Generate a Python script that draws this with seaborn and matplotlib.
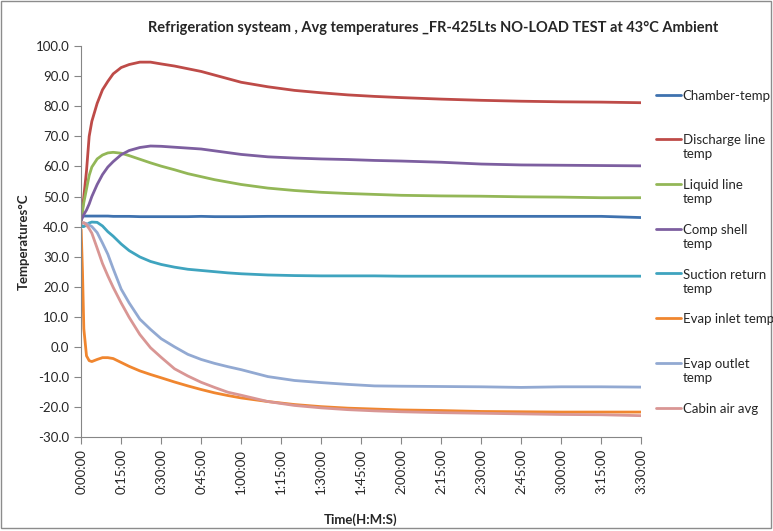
"""Refrigeration system avg temperatures, no-load test chart"""
import numpy as np
import matplotlib
matplotlib.use("Agg")
import matplotlib.pyplot as plt
from matplotlib.legend_handler import HandlerLine2D
import seaborn as sns
import pandas as pd

# time in minutes from start
minutes = [0, 0.5, 1, 2, 3, 4, 6, 8, 10, 12, 15, 18, 22, 26, 30, 35, 40, 45, 50, 55,
           60, 70, 80, 90, 100, 110, 120, 135, 150, 165, 180, 195, 210]

chamber = [43.5, 43.5, 43.5, 43.5, 43.5, 43.5, 43.5, 43.5, 43.5, 43.4, 43.4, 43.4, 43.3, 43.3, 43.3, 43.3, 43.3,
           43.4, 43.3, 43.3, 43.3, 43.4, 43.4, 43.4, 43.4, 43.4, 43.4, 43.4, 43.4, 43.4, 43.4, 43.4, 43.0]
discharge = [42, 46, 50, 58.5, 70, 75, 81, 85.5, 88.3, 90.8, 92.9, 93.9, 94.7, 94.7, 94.1, 93.4, 92.5,
             91.6, 90.4, 89.2, 88.0, 86.5, 85.3, 84.5, 83.8, 83.3, 82.9, 82.4, 82.0, 81.7, 81.5, 81.4, 81.2]
liquid = [42, 45, 48, 52.5, 57, 59.8, 62.5, 63.8, 64.5, 64.7, 64.4, 63.6, 62.4, 61.2, 60.1, 58.9, 57.6,
          56.6, 55.6, 54.8, 54.0, 52.8, 52.0, 51.4, 51.0, 50.7, 50.4, 50.2, 50.1, 49.9, 49.8, 49.6, 49.6]
comp_shell = [42, 43, 44, 45.5, 47.5, 50, 54, 57.3, 59.8, 61.6, 63.9, 65.3, 66.3, 66.8, 66.7, 66.4, 66.1,
              65.8, 65.2, 64.6, 64.0, 63.2, 62.8, 62.5, 62.3, 62.0, 61.8, 61.4, 60.8, 60.5, 60.4, 60.3, 60.2]
suction = [40.5, 40.0, 40.0, 40.5, 41.2, 41.5, 41.4, 40.2, 38.3, 36.8, 34.2, 32.0, 29.9, 28.4, 27.4, 26.5, 25.8,
           25.4, 25.0, 24.6, 24.3, 23.9, 23.7, 23.6, 23.6, 23.6, 23.5, 23.5, 23.5, 23.5, 23.5, 23.5, 23.5]
evap_inlet = [39, 25, 6, -3.0, -4.6, -4.9, -4.2, -3.6, -3.6, -3.9, -5.2, -6.5, -8.0, -9.2, -10.3, -11.7, -13.0,
              -14.2, -15.3, -16.2, -17.0, -18.2, -19.2, -19.9, -20.4, -20.7, -21.0, -21.2, -21.5, -21.6, -21.7, -21.7, -21.7]
evap_outlet = [41, 41.1, 41.2, 41.0, 40.5, 40.0, 38.0, 34.5, 30.8, 26.0, 19.2, 14.6, 9.2, 5.8, 2.7, 0.0, -2.5,
               -4.2, -5.5, -6.6, -7.6, -9.9, -11.2, -11.9, -12.5, -13.0, -13.1, -13.2, -13.3, -13.5, -13.3, -13.3, -13.4]
cabin_air = [41, 41.3, 41.3, 40.5, 39.3, 37.8, 32.8, 27.7, 23.6, 19.8, 14.6, 9.8, 4.1, -0.3, -3.5, -7.3, -9.7,
             -11.8, -13.5, -15.1, -16.1, -18.2, -19.5, -20.3, -20.9, -21.3, -21.6, -21.9, -22.1, -22.3, -22.5, -22.6, -22.9]

series_names = ["Chamber-temp", "Discharge line temp", "Liquid line temp", "Comp shell temp",
                "Suction return temp", "Evap inlet temp", "Evap outlet temp", "Cabin air avg"]
legend_labels = ["Chamber-temp\n ", "Discharge line\ntemp", "Liquid line\ntemp", "Comp shell\ntemp",
                 "Suction return\ntemp", "Evap inlet temp\n ", "Evap outlet\ntemp", "Cabin air avg\n "]
colors = ["#3F72AF", "#BE4B48", "#93B757", "#7D5FA0", "#3FA4BF", "#F0862F", "#92A9D2", "#D99694"]

xticks = list(range(0, 211, 15))
xtick_labels = [f"{m // 60}:{m % 60:02d}:00" for m in xticks]
yticks = list(range(-30, 101, 10))


class FirstLineHandler(HandlerLine2D):
    # put the legend line level with the first text line
    def create_artists(self, legend, orig_handle, xdescent, ydescent, width, height, fontsize, trans):
        artists = super().create_artists(legend, orig_handle, xdescent, ydescent,
                                         width, height, fontsize, trans)
        for a in artists:
            a.set_ydata(np.asarray(a.get_ydata()) + 0.65 * fontsize)
        return artists


values = [chamber, discharge, liquid, comp_shell, suction, evap_inlet, evap_outlet, cabin_air]
df = pd.concat([pd.DataFrame({"Time": minutes, "Temp": v, "Series": n})
                for n, v in zip(series_names, values)])

sns.set_style("white")
plt.rcParams["font.family"] = ["Lato", "DejaVu Sans"]

fig = plt.figure(figsize=(7.73, 5.31), dpi=100)
ax = fig.add_axes([0.105, 0.177, 0.7245, 0.736])

sns.lineplot(data=df, x="Time", y="Temp", hue="Series", palette=dict(zip(series_names, colors)),
             linewidth=2, ax=ax, legend=True)

handles, _ = ax.get_legend_handles_labels()
ax.get_legend().remove()
fig.legend(handles[:8], legend_labels, loc="upper left", bbox_to_anchor=(0.849, 0.831),
           frameon=False, fontsize=9.5, handlelength=1.9, handletextpad=0.1,
           labelspacing=1.42, borderaxespad=0, borderpad=0,
           handler_map={h: FirstLineHandler() for h in handles[:8]})

ax.set_xlim(0, 210)
ax.set_ylim(-30, 100)
ax.set_yticks(yticks)
ax.set_yticklabels([f"{v:.1f}" for v in yticks], fontsize=9.5)
ax.set_xticks(xticks)
ax.set_xticklabels(xtick_labels, rotation=90, fontsize=9.5)
ax.tick_params(axis="both", direction="out", length=5, color="#868686", left=True, bottom=True)

for side in ["top", "right"]:
    ax.spines[side].set_visible(False)
for side in ["left", "bottom"]:
    ax.spines[side].set_color("#868686")

ax.set_xlabel("")
ax.set_ylabel("Temperatures°C", fontsize=9.5, fontweight="bold")
fig.text(0.467, 0.013, "Time(H:M:S)", ha="center", fontsize=9.5, fontweight="bold")
fig.text(0.56, 0.94, "Refrigeration systeam , Avg temperatures _FR-425Lts NO-LOAD TEST at 43°C Ambient",
         ha="center", fontsize=10.5, fontweight="bold")

fig.patches.append(plt.Rectangle((0.001, 0.006), 0.997, 0.992, transform=fig.transFigure,
                                 fill=False, edgecolor="#8C8C8C", linewidth=1))

plt.savefig("out.png", dpi=100)
